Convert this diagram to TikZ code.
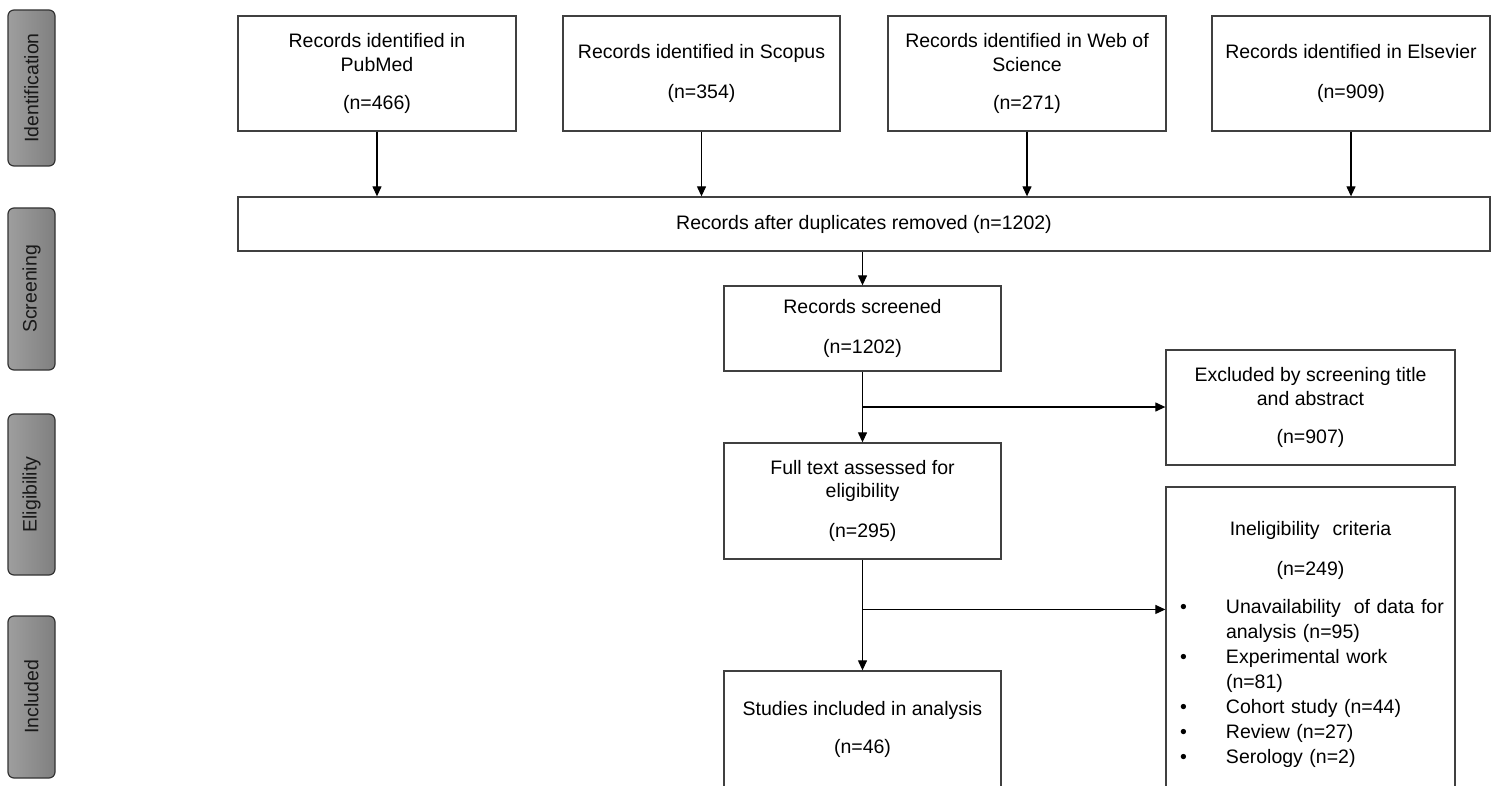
\documentclass[tikz,border=0pt]{standalone}
\usepackage{fontspec}
\setmainfont{Liberation Sans}
\usetikzlibrary{arrows.meta,calc}
\newcommand{\boxfont}{\fontsize{19.5}{23.4}\selectfont}

\begin{document}
\begin{tikzpicture}[x=1pt,y=-1pt,
    box/.style={draw=black!75,line width=1.3pt,inner sep=0pt,align=center,font=\boxfont},
    phase/.style={draw=black!80,line width=1.2pt,rounded corners=6pt,left color=black!38,right color=black!50,
        minimum height=47pt,inner sep=0pt,rotate=90,font=\boxfont,text=black!90},
    arr/.style={line width=1.2pt,-{Triangle[length=10pt,width=9pt]}}]
\useasboundingbox (0,0) rectangle (1491,786);
\clip (0,0) rectangle (1491,786);

% phases
\node[phase,minimum width=156pt] (idf) at (31.5,88) {Identification};
\node[phase,minimum width=162pt] (scr) at (31.5,289) {Screening};
\node[phase,minimum width=161pt] (elg) at (31.5,494.5) {Eligibility};
\node[phase,minimum width=162pt] (inc) at (31.5,697) {Included};

% sources
\node[box,minimum width=278pt,minimum height=115pt] (pubmed) at (377,73.5) {Records identified in\\ PubMed\\[15pt] (n=466)};
\node[box,minimum width=277pt,minimum height=115pt] (scopus) at (701.5,73.5) {Records identified in Scopus\\[17pt] (n=354)};
\node[box,minimum width=278pt,minimum height=115pt] (wos) at (1027,73.5) {Records identified in Web of\\ Science\\[15pt] (n=271)};
\node[box,minimum width=278pt,minimum height=115pt] (elsevier) at (1351,73.5) {Records identified in Elsevier\\[17pt] (n=909)};

\node[box,minimum width=1252pt,minimum height=54pt] (dedup) at (864,224) {Records after duplicates removed (n=1202)};

\node[box,minimum width=277pt,minimum height=85pt] (screened) at (862.5,328.5) {Records screened\\[17pt] (n=1202)};
\node[box,minimum width=289pt,minimum height=115pt] (excl) at (1310.5,407.5) {Excluded by screening title\\ and abstract\\[15pt] (n=907)};
\node[box,minimum width=277pt,minimum height=116pt] (fulltext) at (862.5,501) {Full text assessed for\\ eligibility\\[17pt] (n=295)};
\node[box,minimum width=289pt,minimum height=314pt,text width=289pt,align=left,
    font={\fontsize{19.5}{25}\selectfont}] (inelig) at (1310.5,644) {%
    \makebox[289pt]{Ineligibility\ \ criteria}\\[15pt]
    \makebox[289pt]{(n=249)}\\[13pt]
    \hspace*{14pt}\makebox[46pt][l]{\textbullet}Unavailability\ \ of data for\\
    \hspace*{60pt}analysis (n=95)\\
    \hspace*{14pt}\makebox[46pt][l]{\textbullet}Experimental work\\
    \hspace*{60pt}(n=81)\\
    \hspace*{14pt}\makebox[46pt][l]{\textbullet}Cohort study (n=44)\\
    \hspace*{14pt}\makebox[46pt][l]{\textbullet}Review (n=27)\\
    \hspace*{14pt}\makebox[46pt][l]{\textbullet}Serology (n=2)};
\node[box,minimum width=277pt,minimum height=117pt] (studies) at (862.5,729.5) {Studies included in analysis\\[15pt] (n=46)};

% arrows
\foreach \s in {pubmed,scopus,wos,elsevier}
    \draw[arr] (\s) -- (\s |- dedup.north);
\draw[arr] (screened |- dedup.south) -- (screened);
\draw[arr] (screened) -- (fulltext);
\draw[arr] (fulltext) -- (studies);
\coordinate (b1) at ($(screened.south)!.5!(fulltext.north)$);
\coordinate (b2) at ($(fulltext.south)!.45!(studies.north)$);
\draw[arr] (b1) -- (b1 -| excl.west);
\draw[arr] (b2) -- (b2 -| inelig.west);
\end{tikzpicture}
\end{document}
